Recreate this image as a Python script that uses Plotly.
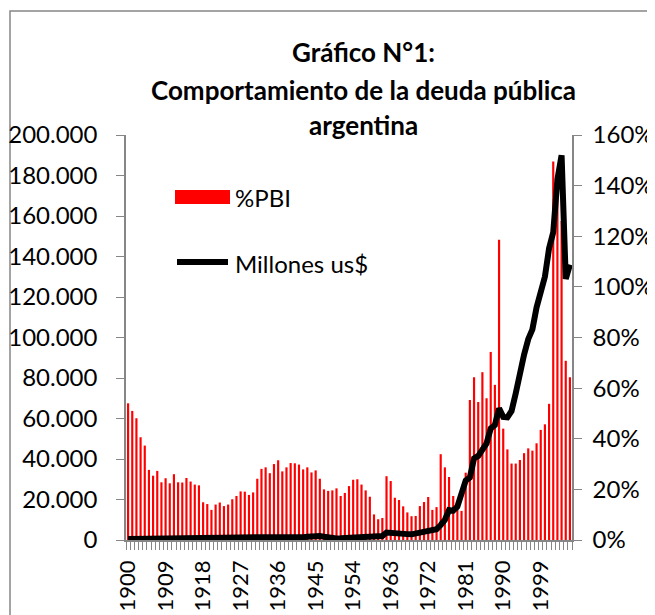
import plotly.graph_objects as go

# años 1900-2006
years = list(range(1900, 2007))

# deuda pública como % del PBI (eje derecho)
pbi_pct = [
    54.0, 51.0, 48.1, 40.6, 37.3, 27.7, 25.4, 27.3, 22.8, 24.4,
    22.4, 26.0, 22.8, 22.7, 24.5, 23.1, 21.9, 21.6, 14.9, 14.2,
    11.9, 14.0, 14.8, 13.4, 14.0, 16.1, 17.4, 19.2, 19.1, 17.8,
    18.8, 24.2, 28.1, 28.7, 26.4, 30.0, 31.5, 27.1, 28.7, 30.4,
    30.3, 29.8, 27.9, 28.7, 26.7, 27.5, 24.2, 20.0, 19.4, 19.6,
    20.4, 17.4, 18.6, 21.3, 23.8, 24.0, 21.9, 19.6, 17.1, 10.1,
    8.2, 8.7, 25.2, 23.3, 16.7, 15.8, 13.3, 10.9, 9.4, 9.5,
    13.4, 15.0, 17.0, 11.9, 13.0, 33.9, 28.7, 24.9, 17.4, 12.6,
    11.5, 26.6, 55.3, 64.3, 54.5, 66.3, 56.0, 74.3, 61.3, 118.6,
    44.0, 35.8, 30.2, 30.2, 31.6, 34.3, 36.2, 35.3, 38.2, 43.5,
    45.7, 53.8, 149.5, 138.0, 126.0, 70.8, 64.3,
]

# deuda pública en millones de us$ (eje izquierdo)
millones_usd = [
    500, 550, 550, 600, 600, 650, 650, 700, 700, 750,
    750, 800, 800, 850, 850, 850, 850, 850, 800, 800,
    850, 850, 900, 950, 1000, 1100, 1200, 1300, 1350, 1400,
    1400, 1350, 1300, 1250, 1200, 1200, 1150, 1150, 1150, 1200,
    1250, 1300, 1400, 1550, 1750, 1950, 2000, 1600, 1100, 900,
    800, 850, 950, 1100, 1300, 1500, 1600, 1650, 1650, 1600,
    1700, 2000, 3700, 3400, 3100, 3000, 2900, 2900, 2800, 3300,
    3800, 4100, 4500, 4900, 5300, 7400, 9900, 14800, 14500, 16500,
    22200, 29300, 30900, 40300, 41500, 44800, 47700, 55100, 56800, 65000,
    60800, 60600, 63700, 72400, 83500, 91500, 99200, 104000, 114800, 123800,
    130000, 144000, 152000, 178000, 190000, 129000, 136000,
]

year_ticks = list(range(1900, 2000, 9))

GRAY = "#868686"
FONT = "Lato"

# the page body adds an 8px margin, so the figure is drawn 8px smaller
# and every reference pixel position is shifted by OFF
OFF = 8
W, H = 655 - OFF, 615 - OFF

fig = go.Figure()
fig.add_trace(go.Bar(
    x=years, y=pbi_pct, name="%PBI",
    marker=dict(color="#FF0000", line_width=0),
    yaxis="y",
))
fig.add_trace(go.Scatter(
    x=years, y=millones_usd, name="Millones us$",
    mode="lines", line=dict(color="black", width=6),
    yaxis="y2",
))

# plot area in reference pixels: 126..572 x, 135..540 y
L, R, T, B = 126 - OFF, 572 - OFF, 135 - OFF, 540 - OFF
def px_x(v):
    return (v - OFF - L) / (R - L)
def px_y(v):
    return (B - (v - OFF)) / (B - T)

fig.update_layout(
    width=W, height=H,
    margin=dict(l=L, r=W - R, t=T, b=H - B),
    paper_bgcolor="white", plot_bgcolor="white",
    separators=",.",
    bargap=0.48,
    showlegend=False,
    font=dict(family=FONT, size=24, color="black"),
    xaxis=dict(
        range=[1899.5, 2006.5], automargin=False,
        tickmode="array", tickvals=year_ticks,
        ticktext=[str(y) for y in year_ticks],
        tickangle=-90, ticks="", showgrid=False, zeroline=False,
        showline=True, linecolor=GRAY, linewidth=1.5,
        tickfont=dict(size=22),
        ticklabelstandoff=10,
        minor=dict(tickmode="linear", tick0=1899.5, dtick=1,
                   ticks="outside", ticklen=8, tickcolor=GRAY, tickwidth=1,
                   showgrid=False),
    ),
    yaxis=dict(
        side="right", range=[0, 160], tickmode="linear", tick0=0, dtick=20,
        ticksuffix="%", ticks="outside", ticklen=8, tickcolor=GRAY,
        showgrid=False, zeroline=False, automargin=False,
        showline=True, linecolor=GRAY, linewidth=1.5,
        ticklabelstandoff=6,
    ),
    yaxis2=dict(
        overlaying="y", side="left", range=[0, 200000],
        tickmode="linear", tick0=0, dtick=20000, tickformat=",d",
        ticks="outside", ticklen=8, tickcolor=GRAY,
        showgrid=False, zeroline=False, automargin=False,
        showline=True, linecolor=GRAY, linewidth=1.5,
        ticklabelstandoff=14,
    ),
)

# chart border
fig.add_shape(type="rect", xref="paper", yref="paper",
              x0=px_x(10), x1=px_x(670), y0=px_y(630), y1=px_y(11),
              line=dict(color=GRAY, width=1.5), layer="below")

# title lines
for txt, yc in [("Gráfico N°1:", 52),
                ("Comportamiento de la deuda pública", 90),
                ("argentina", 125)]:
    fig.add_annotation(text="<b>%s</b>" % txt, xref="paper", yref="paper",
                       x=px_x(363), y=px_y(yc), xanchor="center", yanchor="middle",
                       showarrow=False, font=dict(family=FONT, size=26, color="black"))

# legend
fig.add_shape(type="rect", xref="paper", yref="paper",
              x0=px_x(175), x1=px_x(230), y0=px_y(204), y1=px_y(190),
              fillcolor="#FF0000", line_width=0)
fig.add_shape(type="line", xref="paper", yref="paper",
              x0=px_x(177), x1=px_x(228), y0=px_y(262), y1=px_y(262),
              line=dict(color="black", width=6))
fig.add_annotation(text="%PBI", xref="paper", yref="paper",
                   x=px_x(233), y=px_y(197), xanchor="left", yanchor="middle",
                   showarrow=False, font=dict(family=FONT, size=24))
fig.add_annotation(text="Millones us$", xref="paper", yref="paper",
                   x=px_x(233), y=px_y(263), xanchor="left", yanchor="middle",
                   showarrow=False, font=dict(family=FONT, size=24))

fig.write_html("out.html")
